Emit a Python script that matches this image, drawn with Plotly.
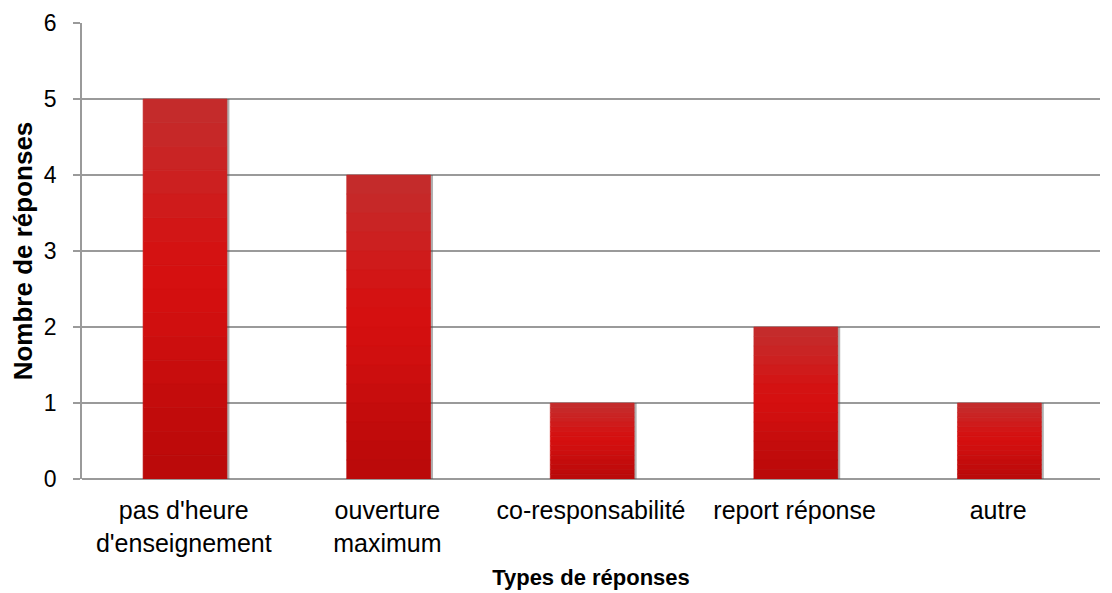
import plotly.graph_objects as go

categories = ["pas d'heure<br>d'enseignement", "ouverture<br>maximum",
              "co-responsabilité", "report réponse", "autre"]
counts = [5, 4, 1, 2, 1]

# vertical shading of the bars, top to bottom
shades = ["#c42b2b", "#c62828", "#c92424", "#cc2020", "#cf1b1b",
          "#d21616", "#d41212", "#d51010", "#d30f0f", "#d00f0f",
          "#cc0e0e", "#c80d0d", "#c40c0c", "#c10b0b", "#be0a0a", "#bb0a0a"]

font = "Liberation Sans, Arial, sans-serif"
fig = go.Figure()

# drop shadow behind each bar
fig.add_trace(go.Bar(x=categories, y=counts, width=0.412, offset=-0.188,
                     marker=dict(color="rgba(80,80,80,0.45)", line_width=0),
                     hoverinfo="skip", showlegend=False))

n = len(shades)
for i, c in enumerate(shades):
    seg = [v / n for v in counts]
    base = [v - v * (i + 1) / n for v in counts]
    fig.add_trace(go.Bar(x=categories, y=seg, base=base, width=0.412, offset=-0.2,
                         marker=dict(color=c, line=dict(color=c, width=0.6)),
                         showlegend=False, hoverinfo="skip"))

# the page body adds an 8px offset, so margins are trimmed to match
fig.update_layout(
    barmode="overlay",
    width=1112, height=593,
    margin=dict(l=74, r=20, t=15, b=122),
    plot_bgcolor="white", paper_bgcolor="white",
    font=dict(family=font, size=22, color="black"),
    xaxis=dict(title=dict(text="<b>Types de réponses</b>", standoff=14,
                          font=dict(size=22)),
               automargin=False, showline=False, ticks="",
               ticklabelstandoff=14, tickfont=dict(size=25)),
    yaxis=dict(title=dict(text="<b>Nombre de réponses</b>", standoff=5,
                          font=dict(size=26)),
               automargin=False,
               range=[0, 6], dtick=1, showgrid=True, gridcolor="#9a9a9a",
               gridwidth=1.5, showline=True, linecolor="#9a9a9a", linewidth=1.5,
               ticks="outside", ticklen=7, tickcolor="#9a9a9a", tickwidth=1.5,
               ticklabelstandoff=12,
               zeroline=True, zerolinecolor="#9a9a9a", zerolinewidth=1.5,
               tickfont=dict(size=23)),
)

fig.write_html("out.html")
